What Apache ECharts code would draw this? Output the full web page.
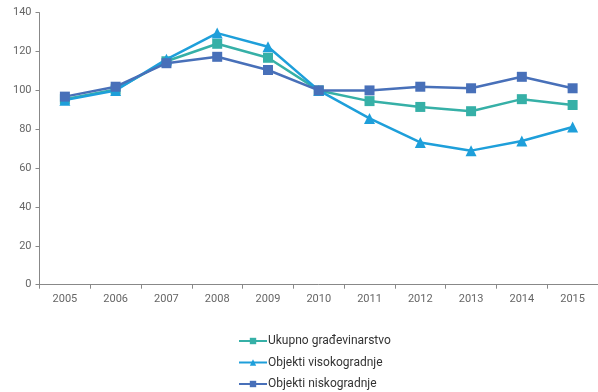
<!DOCTYPE html>
<html><head><meta charset="utf-8">
<script src="https://cdn.jsdelivr.net/npm/echarts@6/dist/echarts.min.js"></script>
<style>html,body{margin:0;padding:0;background:#fff}#c{width:598px;height:392px}</style>
</head><body><div id="c"></div>
<script>
const categories = ['2005','2006','2007','2008','2009','2010','2011','2012','2013','2014','2015'];
const ukupno = [95.5, 100.5, 115, 124, 116.8, 100, 94.5, 91.5, 89.3, 95.5, 92.5];
const visoko = [95, 100, 116, 129.5, 122.5, 100, 85.6, 73.2, 69, 74, 81.2];
const nisko = [96.8, 101.9, 114, 117.3, 110.5, 100, 100, 101.9, 101.1, 107, 101.1];
const seriesNames = ['Ukupno građevinarstvo', 'Objekti visokogradnje', 'Objekti niskogradnje'];
const colors = ['#36B0A7', '#1E9FDA', '#4870B9'];

const chart = echarts.init(document.getElementById('c'), null, {renderer: 'canvas'});
const font = 'Roboto, sans-serif';
chart.setOption({
  animation: false,
  color: colors,
  textStyle: {fontFamily: font},
  grid: {left: 39.5, top: 12.7, width: 568, height: 272, containLabel: false},
  legend: {
    orient: 'vertical', left: 238, top: 335, height: 120, padding: 0, itemGap: 9.5, itemWidth: 28, itemHeight: 8,
    textStyle: {fontFamily: font, fontSize: 12, color: '#333', padding: [0,0,0,-4]},
    data: seriesNames
  },
  xAxis: {
    type: 'category', data: categories, boundaryGap: true,
    axisLine: {lineStyle: {color: '#888', width: 1}},
    axisTick: {show: true, alignWithLabel: false, length: 4, lineStyle: {color: '#888'}},
    axisLabel: {color: '#666', fontSize: 11, margin: 9, fontFamily: font}
  },
  yAxis: {
    type: 'value', min: 0, max: 140, interval: 20,
    axisLine: {show: true, lineStyle: {color: '#888', width: 1}},
    axisTick: {show: true, length: 4, lineStyle: {color: '#888'}},
    splitLine: {show: false},
    axisLabel: {color: '#666', fontSize: 11, margin: 8, fontFamily: font}
  },
  series: [
    {name: seriesNames[0], type: 'line', data: ukupno, symbol: 'rect', symbolSize: 10,
     lineStyle: {width: 2.5}, itemStyle: {color: colors[0]}, z: 2},
    {name: seriesNames[1], type: 'line', data: visoko, symbol: 'triangle', symbolSize: 11,
     lineStyle: {width: 2.5}, itemStyle: {color: colors[1]}, z: 3},
    {name: seriesNames[2], type: 'line', data: nisko, symbol: 'rect', symbolSize: 10,
     lineStyle: {width: 2.5}, itemStyle: {color: colors[2]}, z: 4}
  ]
});
</script></body></html>
